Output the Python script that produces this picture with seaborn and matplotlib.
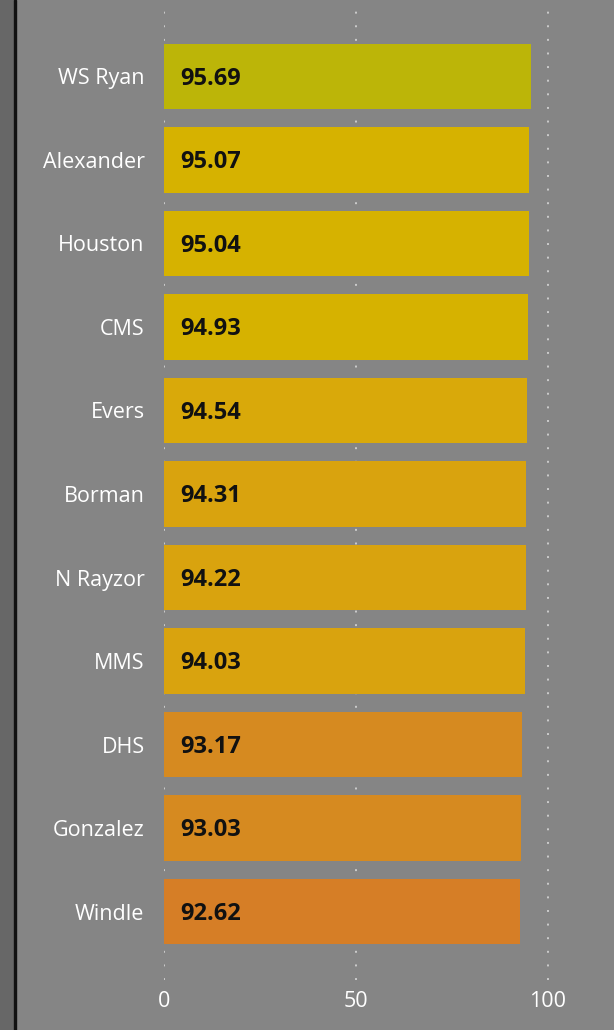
import numpy as np
import pandas as pd
import seaborn as sns
import matplotlib.pyplot as plt

schools = ["WS Ryan", "Alexander", "Houston", "CMS", "Evers", "Borman",
           "N Rayzor", "MMS", "DHS", "Gonzalez", "Windle"]
scores = [95.69, 95.07, 95.04, 94.93, 94.54, 94.31, 94.22, 94.03, 93.17, 93.03, 92.62]
colors = ["#bcb508", "#d6b200", "#d6b200", "#d6b200", "#d9a90a", "#d9a30e",
          "#d9a30e", "#d9a30e", "#d68a20", "#d68a20", "#d67e26"]
xticks = [0, 50, 100]

bg = "#858585"
sns.set_style("white")
plt.rcParams["font.family"] = ["Open Sans", "DejaVu Sans"]

df = pd.DataFrame({"school": schools, "score": scores})

fig = plt.figure(figsize=(6.14, 10.30), dpi=100, facecolor=bg)

# dark strip and border on the left edge
fig.patches.append(plt.Rectangle((0, 0), 14 / 614, 1, transform=fig.transFigure,
                                 color="#676767", zorder=0))
fig.patches.append(plt.Rectangle((14 / 614, 0), 2 / 614, 1, transform=fig.transFigure,
                                 color="#111111", zorder=1))

ax = fig.add_axes([164 / 614, 50 / 1030, 450 / 614, 970 / 1030])
ax.set_facecolor(bg)

sns.barplot(data=df, x="score", y="school", hue="school", palette=colors,
            orient="h", width=0.78, legend=False, ax=ax, saturation=1,
            edgecolor="none", linewidth=0)

for bar, val in zip(ax.patches, scores):
    ax.annotate(f"{val:.2f}", xy=(0, bar.get_y() + bar.get_height() / 2),
                xytext=(12, -1.5), textcoords="offset points", va="center", ha="left",
                fontsize=17, fontweight="bold", color="#111111")

ax.set_xlim(0, 117.2)
ax.set_ylim(10.82, -0.796)
ax.set_xticks(xticks)
ax.grid(axis="x", color="#cccccc", linestyle=(0, (1, 6)), linewidth=1.4)
ax.set_axisbelow(True)
for s in ax.spines.values():
    s.set_visible(False)
ax.tick_params(axis="y", length=0, pad=14, labelsize=15.5, labelcolor="white")
ax.tick_params(axis="x", length=0, pad=8, labelsize=15.5, labelcolor="white")
ax.set_xlabel("")
ax.set_ylabel("")

fig.savefig("out.png", dpi=100, facecolor=bg)
